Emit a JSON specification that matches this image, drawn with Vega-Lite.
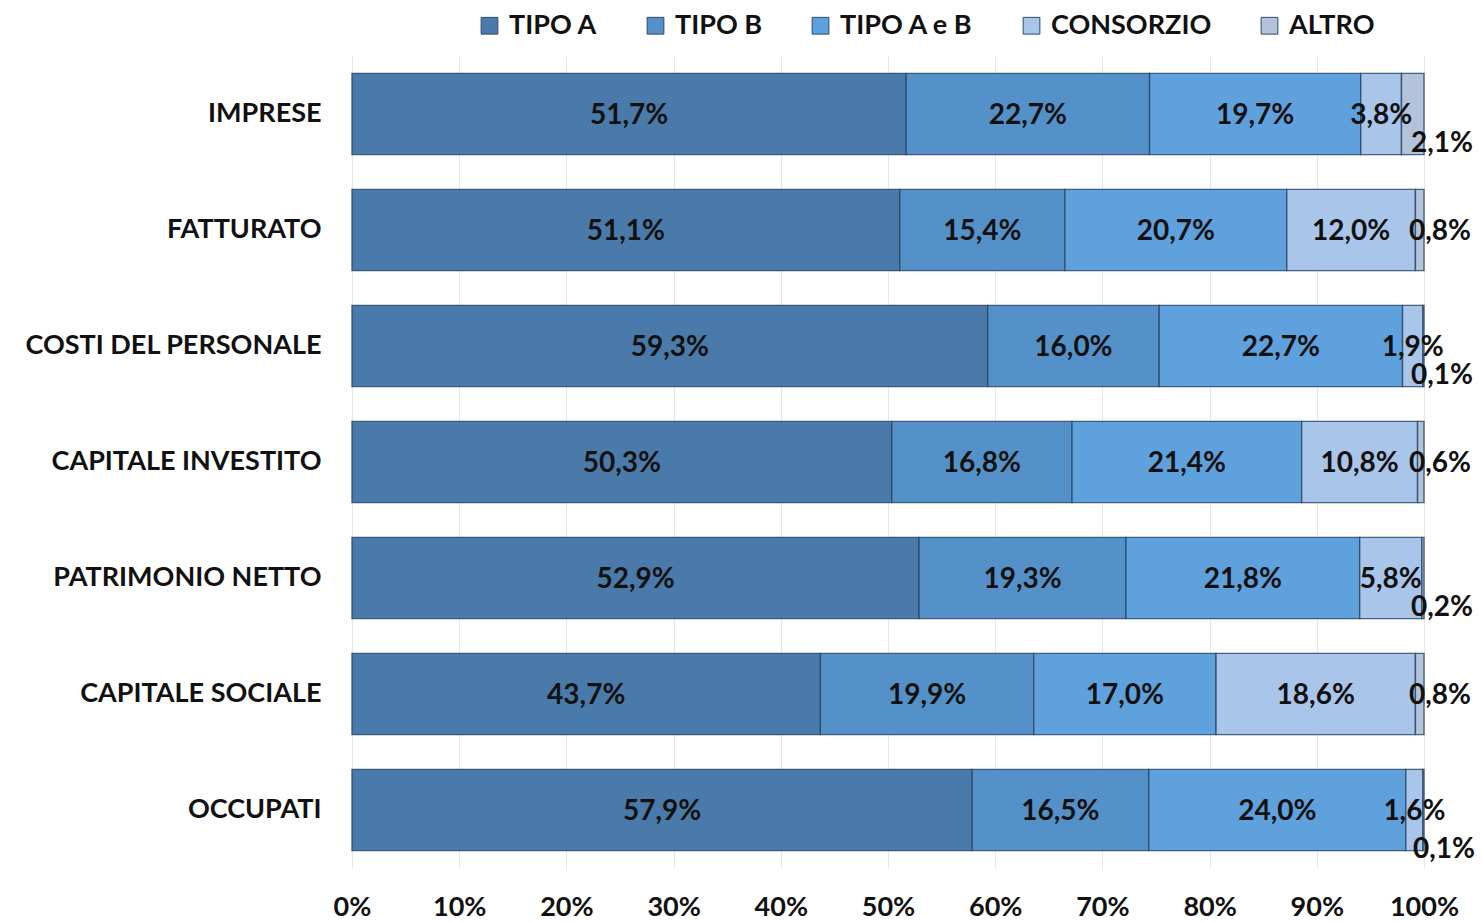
{
  "$schema": "https://vega.github.io/schema/vega-lite/v6.json",
  "autosize": "none",
  "width": 1072,
  "height": 812,
  "padding": {"left": 352, "top": 56, "right": 58, "bottom": 54},
  "background": "white",
  "config": {
    "locale": {"number": {"decimal": ",", "thousands": ".", "grouping": [3], "currency": ["", " €"]}},
    "font": "Lato",
    "view": {"stroke": null}
  },
  "data": {"values": [
    {"voce": "IMPRESE", "tipo": "TIPO A", "k": 1, "v": 0.517},
    {"voce": "IMPRESE", "tipo": "TIPO B", "k": 2, "v": 0.227},
    {"voce": "IMPRESE", "tipo": "TIPO A e B", "k": 3, "v": 0.197},
    {"voce": "IMPRESE", "tipo": "CONSORZIO", "k": 4, "v": 0.038},
    {"voce": "IMPRESE", "tipo": "ALTRO", "k": 5, "v": 0.021},
    {"voce": "FATTURATO", "tipo": "TIPO A", "k": 1, "v": 0.511},
    {"voce": "FATTURATO", "tipo": "TIPO B", "k": 2, "v": 0.154},
    {"voce": "FATTURATO", "tipo": "TIPO A e B", "k": 3, "v": 0.207},
    {"voce": "FATTURATO", "tipo": "CONSORZIO", "k": 4, "v": 0.120},
    {"voce": "FATTURATO", "tipo": "ALTRO", "k": 5, "v": 0.008},
    {"voce": "COSTI DEL PERSONALE", "tipo": "TIPO A", "k": 1, "v": 0.593},
    {"voce": "COSTI DEL PERSONALE", "tipo": "TIPO B", "k": 2, "v": 0.160},
    {"voce": "COSTI DEL PERSONALE", "tipo": "TIPO A e B", "k": 3, "v": 0.227},
    {"voce": "COSTI DEL PERSONALE", "tipo": "CONSORZIO", "k": 4, "v": 0.019},
    {"voce": "COSTI DEL PERSONALE", "tipo": "ALTRO", "k": 5, "v": 0.001},
    {"voce": "CAPITALE INVESTITO", "tipo": "TIPO A", "k": 1, "v": 0.503},
    {"voce": "CAPITALE INVESTITO", "tipo": "TIPO B", "k": 2, "v": 0.168},
    {"voce": "CAPITALE INVESTITO", "tipo": "TIPO A e B", "k": 3, "v": 0.214},
    {"voce": "CAPITALE INVESTITO", "tipo": "CONSORZIO", "k": 4, "v": 0.108},
    {"voce": "CAPITALE INVESTITO", "tipo": "ALTRO", "k": 5, "v": 0.006},
    {"voce": "PATRIMONIO NETTO", "tipo": "TIPO A", "k": 1, "v": 0.529},
    {"voce": "PATRIMONIO NETTO", "tipo": "TIPO B", "k": 2, "v": 0.193},
    {"voce": "PATRIMONIO NETTO", "tipo": "TIPO A e B", "k": 3, "v": 0.218},
    {"voce": "PATRIMONIO NETTO", "tipo": "CONSORZIO", "k": 4, "v": 0.058},
    {"voce": "PATRIMONIO NETTO", "tipo": "ALTRO", "k": 5, "v": 0.002},
    {"voce": "CAPITALE SOCIALE", "tipo": "TIPO A", "k": 1, "v": 0.437},
    {"voce": "CAPITALE SOCIALE", "tipo": "TIPO B", "k": 2, "v": 0.199},
    {"voce": "CAPITALE SOCIALE", "tipo": "TIPO A e B", "k": 3, "v": 0.170},
    {"voce": "CAPITALE SOCIALE", "tipo": "CONSORZIO", "k": 4, "v": 0.186},
    {"voce": "CAPITALE SOCIALE", "tipo": "ALTRO", "k": 5, "v": 0.008},
    {"voce": "OCCUPATI", "tipo": "TIPO A", "k": 1, "v": 0.579},
    {"voce": "OCCUPATI", "tipo": "TIPO B", "k": 2, "v": 0.165},
    {"voce": "OCCUPATI", "tipo": "TIPO A e B", "k": 3, "v": 0.240},
    {"voce": "OCCUPATI", "tipo": "CONSORZIO", "k": 4, "v": 0.016},
    {"voce": "OCCUPATI", "tipo": "ALTRO", "k": 5, "v": 0.001}
  ]},
  "transform": [
    {"stack": "v", "groupby": ["voce"], "sort": [{"field": "k", "order": "ascending"}], "offset": "normalize", "as": ["x0", "x1"]},
    {"calculate": "(datum.x0 + datum.x1) / 2", "as": "xm"}
  ],
  "encoding": {
    "y": {
      "field": "voce", "type": "nominal",
      "sort": ["IMPRESE", "FATTURATO", "COSTI DEL PERSONALE", "CAPITALE INVESTITO", "PATRIMONIO NETTO", "CAPITALE SOCIALE", "OCCUPATI"],
      "scale": {"paddingInner": 0.3, "paddingOuter": 0.15},
      "axis": {"title": null, "ticks": false, "domain": false, "labelFontSize": 27, "labelFontWeight": "bold", "labelColor": "#111111", "labelPadding": 31, "labelFont": "Lato", "labelLimit": 400}
    }
  },
  "layer": [
    {
      "mark": {"type": "bar", "stroke": "#2c4a68", "strokeWidth": 1.4, "strokeOpacity": 0.85},
      "encoding": {
        "x": {"field": "x0", "type": "quantitative", "scale": {"domain": [0, 1], "nice": false},
          "axis": {"title": null, "format": ".0%", "values": [0, 0.1, 0.2, 0.3, 0.4, 0.5, 0.6, 0.7, 0.8, 0.9, 1], "labelOverlap": false, "labelFlush": false, "ticks": false, "domain": false, "grid": true, "gridColor": "#e6e6e6", "gridWidth": 1, "labelFontSize": 27, "labelFontWeight": "bold", "labelColor": "#111111", "labelPadding": 26, "labelFont": "Lato"}},
        "x2": {"field": "x1"},
        "color": {
          "field": "tipo", "type": "nominal",
          "scale": {"domain": ["TIPO A", "TIPO B", "TIPO A e B", "CONSORZIO", "ALTRO"], "range": ["#4a7aa9", "#5591c9", "#5fa1dd", "#a9c5ea", "#b3c3da"]},
          "legend": {"title": null, "orient": "none", "legendX": 124, "legendY": -44, "direction": "horizontal", "symbolType": "square", "symbolSize": 280, "symbolStrokeColor": "#2c4a68", "symbolStrokeWidth": 1, "labelFontSize": 27, "labelFontWeight": "bold", "labelColor": "#111111", "labelFont": "Lato", "labelLimit": 400, "columnPadding": 44, "labelOffset": 6}
        }
      }
    },
    {
      "transform": [{"filter": "datum.tipo != 'ALTRO'"}],
      "mark": {"type": "text", "fontSize": 28, "fontWeight": "bold", "color": "#111111", "align": "center", "baseline": "middle", "dy": 2, "font": "Lato"},
      "encoding": {
        "x": {"field": "xm", "type": "quantitative"},
        "text": {"field": "v", "type": "quantitative", "format": ".1%"}
      }
    },
    {
      "transform": [{"filter": "datum.tipo == 'ALTRO' && indexof(['IMPRESE','COSTI DEL PERSONALE','PATRIMONIO NETTO'], datum.voce) >= 0"}],
      "mark": {"type": "text", "fontSize": 28, "fontWeight": "bold", "color": "#111111", "align": "center", "baseline": "middle", "dx": 18, "dy": 30, "font": "Lato"},
      "encoding": {
        "x": {"field": "x1", "type": "quantitative"},
        "text": {"field": "v", "type": "quantitative", "format": ".1%"}
      }
    },
    {
      "transform": [{"filter": "datum.tipo == 'ALTRO' && datum.voce == 'OCCUPATI'"}],
      "mark": {"type": "text", "fontSize": 28, "fontWeight": "bold", "color": "#111111", "align": "center", "baseline": "middle", "dx": 20, "dy": 40, "font": "Lato"},
      "encoding": {
        "x": {"field": "x1", "type": "quantitative"},
        "text": {"field": "v", "type": "quantitative", "format": ".1%"}
      }
    },
    {
      "transform": [{"filter": "datum.tipo == 'ALTRO' && indexof(['IMPRESE','COSTI DEL PERSONALE','PATRIMONIO NETTO','OCCUPATI'], datum.voce) < 0"}],
      "mark": {"type": "text", "fontSize": 28, "fontWeight": "bold", "color": "#111111", "align": "center", "baseline": "middle", "dx": 16, "dy": 2, "font": "Lato"},
      "encoding": {
        "x": {"field": "x1", "type": "quantitative"},
        "text": {"field": "v", "type": "quantitative", "format": ".1%"}
      }
    }
  ]
}
